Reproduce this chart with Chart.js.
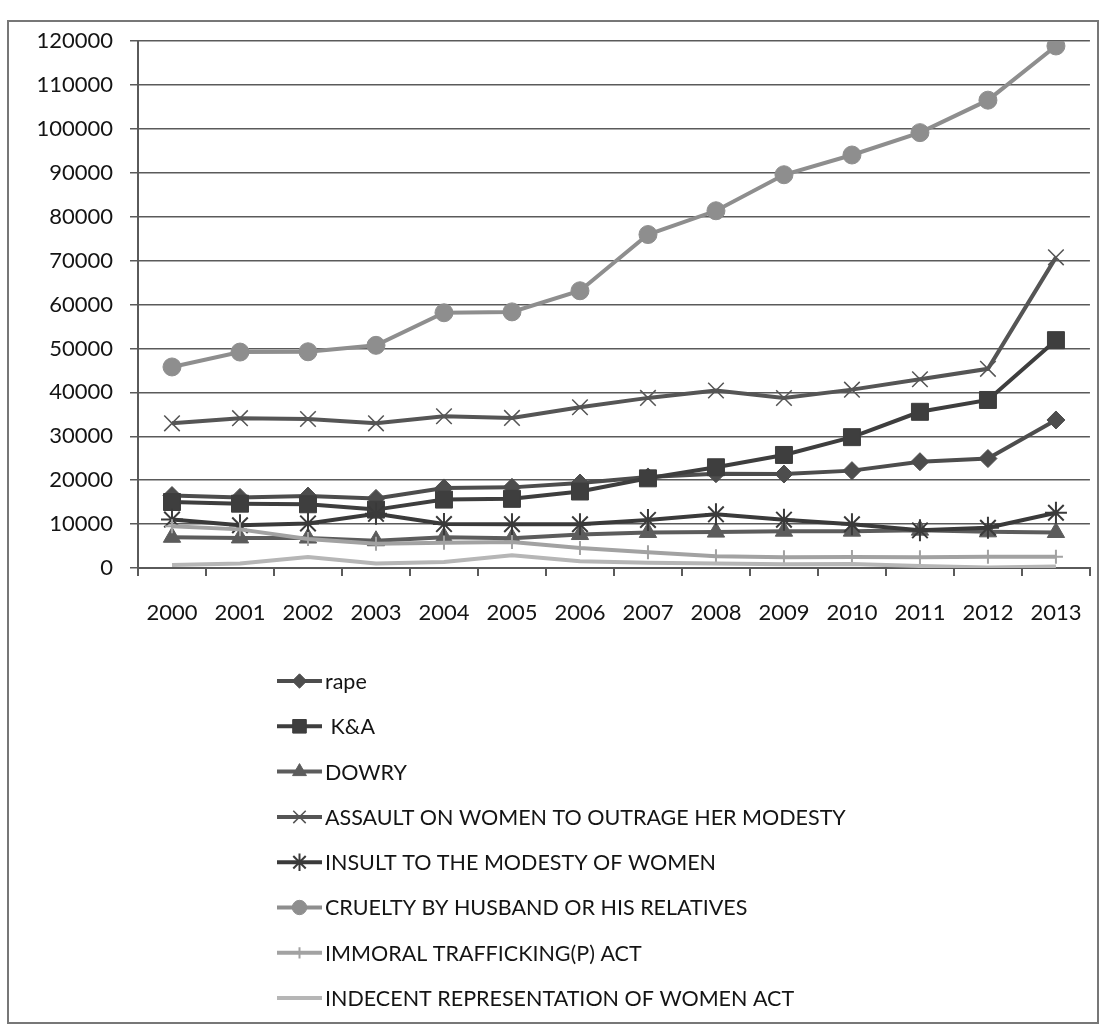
<!DOCTYPE html>
<html>
<head>
<meta charset="utf-8">
<title>Crimes against women 2000-2013</title>
<script src="https://cdn.jsdelivr.net/npm/chart.js@4.4.1/dist/chart.umd.min.js"></script>
<style>
  html, body { margin: 0; padding: 0; background: #fff; }
  #frame {
    position: absolute; left: 7px; top: 20px; width: 1088px; height: 1000px;
    border: 2px solid #777;
  }
  #chart { position: absolute; left: 0; top: 0; }
</style>
</head>
<body>
<div id="frame"></div>
<canvas id="chart" width="1106" height="1032"></canvas>
<script>
const years = ['2000', '2001', '2002', '2003', '2004', '2005', '2006', '2007', '2008', '2009', '2010', '2011', '2012', '2013'];

const rape      = [16496, 16075, 16373, 15847, 18233, 18359, 19348, 20737, 21467, 21397, 22172, 24206, 24923, 33707];
const kidnap    = [15023, 14645, 14506, 13296, 15578, 15750, 17414, 20416, 22939, 25741, 29795, 35565, 38262, 51881];
const dowry     = [6995, 6851, 6822, 6208, 7026, 6787, 7618, 8093, 8172, 8383, 8391, 8618, 8233, 8083];
const assault   = [32940, 34124, 33943, 32939, 34567, 34175, 36617, 38734, 40413, 38711, 40613, 42968, 45351, 70739];
const insult    = [11024, 9746, 10155, 12325, 10001, 9984, 9966, 10950, 12214, 11009, 9961, 8570, 9173, 12589];
const cruelty   = [45778, 49170, 49237, 50703, 58121, 58319, 63128, 75930, 81344, 89546, 94041, 99135, 106527, 118866];
const immoral   = [9515, 8796, 6598, 5510, 5748, 5908, 4541, 3568, 2659, 2474, 2499, 2435, 2563, 2579];
const indecent  = [662, 1052, 2508, 1043, 1378, 2917, 1562, 1200, 1025, 845, 895, 453, 141, 362];

const seriesNames = [
    'rape',
    ' K&A',
    'DOWRY',
    'ASSAULT ON WOMEN TO OUTRAGE HER MODESTY',
    'INSULT TO THE MODESTY OF WOMEN',
    'CRUELTY BY HUSBAND OR HIS RELATIVES',
    'IMMORAL TRAFFICKING(P) ACT',
    'INDECENT REPRESENTATION OF WOMEN ACT'
];

const yTicks = { min: 0, max: 120000, step: 10000 };

const FONT = 'Lato';
const TEXT = '#141414';
const GRID = '#5a5a5a';

const styles = [
    { color: '#4d4d4d', point: 'rectRot',  radius: 9,  pw: 1 },
    { color: '#3e3e3e', point: 'rect',     radius: 12, pw: 1 },
    { color: '#5c5c5c', point: 'triangle', radius: 10, pw: 1 },
    { color: '#555555', point: 'crossRot', radius: 11, pw: 1.5 },
    { color: '#3a3a3a', point: 'star',     radius: 11, pw: 2 },
    { color: '#8e8e8e', point: 'circle',   radius: 9,  pw: 1 },
    { color: '#a2a2a2', point: 'cross',    radius: 7,  pw: 2 },
    { color: '#b6b6b6', point: 'circle',   radius: 0,  pw: 0 },
];

const values = [rape, kidnap, dowry, assault, insult, cruelty, immoral, indecent];

const datasets = values.map((data, i) => ({
    label: seriesNames[i],
    data: data,
    borderColor: styles[i].color,
    backgroundColor: styles[i].color,
    borderWidth: 4,
    tension: 0,
    pointStyle: styles[i].point,
    pointRadius: styles[i].radius,
    pointHoverRadius: styles[i].radius,
    pointBackgroundColor: styles[i].color,
    pointBorderColor: styles[i].color,
    pointBorderWidth: styles[i].pw,
    order: values.length - i, // later series on top, like the original
}));

// vertical legend under the plot, one series per row
const stackedLegend = {
    id: 'stackedLegend',
    afterDraw(chart) {
        const ctx = chart.ctx;
        const startY = chart.chartArea.bottom + 113;
        const x0 = 277, x1 = 322;
        chart.data.datasets.forEach((ds, i) => {
            const y = startY + i * 45.3;
            ctx.save();
            ctx.strokeStyle = ds.borderColor;
            ctx.lineWidth = ds.borderWidth;
            ctx.beginPath();
            ctx.moveTo(x0, y);
            ctx.lineTo(x1, y);
            ctx.stroke();
            if (ds.pointRadius > 0) {
                ctx.fillStyle = ds.pointBackgroundColor;
                ctx.strokeStyle = ds.pointBorderColor;
                ctx.lineWidth = ds.pointBorderWidth;
                Chart.helpers.drawPoint(ctx, {
                    pointStyle: ds.pointStyle,
                    radius: ds.pointRadius * 0.8,
                    rotation: 0,
                    borderWidth: ds.pointBorderWidth
                }, (x0 + x1) / 2, y);
            }
            ctx.fillStyle = TEXT;
            ctx.font = `21.5px ${FONT}`;
            ctx.textBaseline = 'middle';
            ctx.fillText(ds.label, x1 + 3, y + 1);
            ctx.restore();
        });
    }
};

new Chart(document.getElementById('chart'), {
    type: 'line',
    data: { labels: years, datasets },
    plugins: [stackedLegend],
    options: {
        responsive: false,
        animation: false,
        layout: { padding: { top: 41, right: 15, bottom: 400, left: 0 } },
        plugins: {
            legend: { display: false },
            tooltip: { enabled: false },
        },
        scales: {
            x: {
                offset: true,
                afterFit: (scale) => { scale.height = 64; },
                border: { color: GRID, width: 2 },
                grid: { drawOnChartArea: false, drawTicks: true, tickLength: 8, offset: true, color: GRID, lineWidth: 2 },
                ticks: { color: TEXT, font: { family: FONT, size: 22 }, padding: 24, maxRotation: 0, autoSkip: false },
            },
            y: {
                min: yTicks.min,
                max: yTicks.max,
                afterFit: (scale) => { scale.width = 138; },
                border: { color: GRID, width: 2 },
                grid: { color: GRID, lineWidth: 1.5, tickLength: 8 },
                ticks: {
                    stepSize: yTicks.step,
                    color: TEXT,
                    font: { family: FONT, size: 22 },
                    padding: 17,
                    callback: (v) => String(v),
                },
            },
        },
    },
});
</script>
</body>
</html>
